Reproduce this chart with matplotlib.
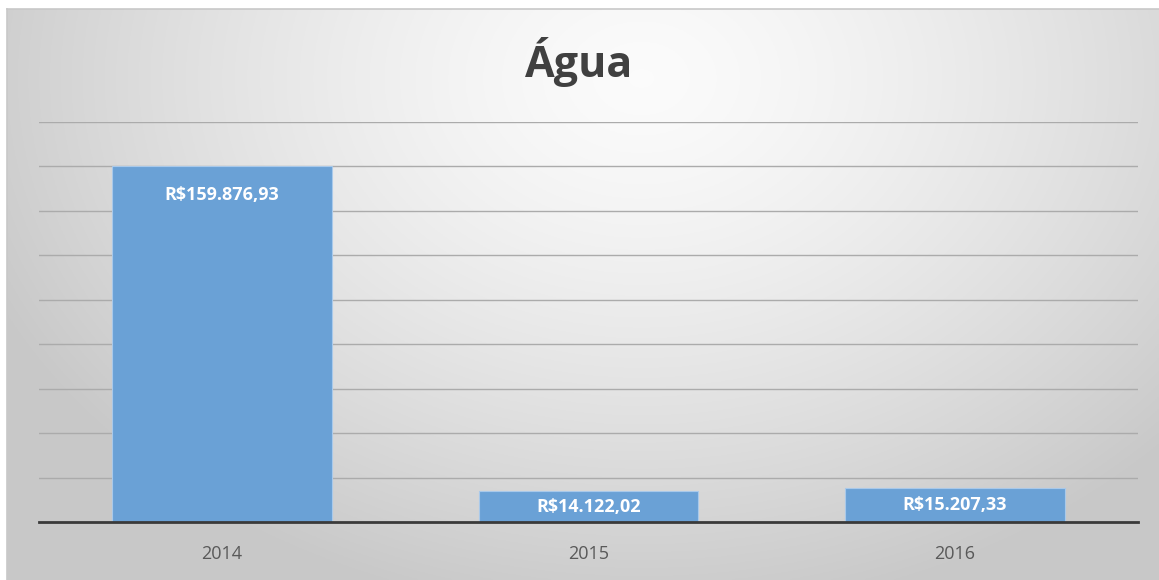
import numpy as np
import matplotlib.pyplot as plt

# data
years = ['2014', '2015', '2016']
valores = [159876.93, 14122.02, 15207.33]
rotulos = ['R$159.876,93', 'R$14.122,02', 'R$15.207,33']

FONT = ['Open Sans', 'DejaVu Sans']

fig = plt.figure(figsize=(11.59, 5.8), dpi=100)
fig.patch.set_facecolor('white')

# radial gradient background (chart area starts a few px in from top/left)
bg = fig.add_axes([7 / 1159, 0, 1 - 7 / 1159, 1 - 9 / 580], zorder=0)
h, w = 300, 600
yy, xx = np.mgrid[0:h, 0:w]
cx, cy = 0.55 * w, 0.12 * h
r = np.sqrt(((xx - cx) / (0.62 * w)) ** 2 + ((yy - cy) / (0.95 * h)) ** 2)
r = np.clip(r, 0, 1)
shade = 0.985 - 0.2 * r ** 1.4
bg.imshow(np.dstack([shade] * 3), aspect='auto', extent=[0, 1, 0, 1])
bg.set_axis_off()
bg.plot([0, 1], [1, 1], color='#c8c8c8', lw=1.2, transform=bg.transAxes, clip_on=False)
bg.plot([0, 0], [0, 1], color='#c8c8c8', lw=1.2, transform=bg.transAxes, clip_on=False)

ax = fig.add_axes([39 / 1159, 1 - 522 / 580, (1138 - 39) / 1159, (522 - 121.5) / 580], zorder=1)
ax.patch.set_alpha(0)

x = np.arange(len(years))
bars = ax.bar(x, valores, width=0.6, color='#6aa1d6', edgecolor='#a9c9ea', linewidth=0.8, zorder=3)

ax.set_xlim(-0.5, 2.5)
ax.set_ylim(0, 180000)
ax.set_yticks(np.arange(20000, 180001, 20000))
ax.yaxis.grid(True, color='#ababab', linewidth=1.0, zorder=0)
ax.set_axisbelow(True)
ax.tick_params(axis='y', left=False, labelleft=False)
ax.tick_params(axis='x', bottom=False, pad=13)
ax.set_xticks(x)
ax.set_xticklabels(years, fontsize=13, color='#595959', family=FONT)

for s in ['top', 'right', 'left']:
    ax.spines[s].set_visible(False)
ax.spines['bottom'].set_color('#3a3a3a')
ax.spines['bottom'].set_linewidth(2)
ax.spines['bottom'].set_zorder(4)

for xi, v, lab in zip(x, valores, rotulos):
    off = -21 if v > 50000 else -12
    ax.annotate(lab, (xi, v), xytext=(0, off), textcoords='offset points',
                ha='center', va='center', color='white', fontsize=13,
                fontweight='bold', family=FONT, zorder=5)

fig.text(0.5, 1 - 62 / 580, 'Água', ha='center', va='center', fontsize=31,
         fontweight='bold', color='#404040', family=FONT)

fig.savefig('out.png', dpi=100)
